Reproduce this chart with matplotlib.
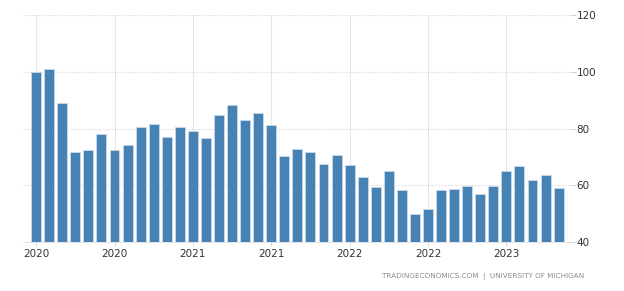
import matplotlib
matplotlib.use("Agg")
import matplotlib.pyplot as plt
import numpy as np

months = [f"{y}-{m:02d}" for y in range(2020, 2024) for m in range(1, 13)][:41]
values = [99.8, 101.0, 89.1, 71.8, 72.3, 78.1, 72.5, 74.1, 80.4, 81.8, 76.9, 80.7,
          79.0, 76.8, 84.9, 88.3, 82.9, 85.5, 81.2, 70.3, 72.8, 71.7, 67.4, 70.6,
          67.2, 62.8, 59.4, 65.2, 58.4, 50.0, 51.5, 58.2, 58.6, 59.9, 56.8, 59.7,
          64.9, 67.0, 62.0, 63.5, 59.2]
tick_labels = ["2020", "2020", "2021", "2021", "2022", "2022", "2023"]
tick_idx = [0, 6, 12, 18, 24, 30, 36]
y_ticks = [40, 60, 80, 100, 120]

fig = plt.figure(figsize=(6.24, 2.91), dpi=100)
ax = fig.add_axes([0.037, 0.168, 0.876, 0.78])
x = np.arange(len(values))
ax.bar(x, np.array(values) - 40, bottom=40, width=0.76, color="#4682B4",
       edgecolor="#c9d9ea", linewidth=0.6, zorder=3)
ax.set_xlim(-1.0, len(values) - 0.15)
ax.set_ylim(40, 120)
ax.set_yticks(y_ticks)
ax.yaxis.tick_right()
ax.set_xticks(tick_idx)
ax.set_xticklabels(tick_labels)
ax.tick_params(axis="y", length=4, width=0.6, color="#cccccc", labelsize=7.5,
               labelcolor="#333333", pad=1)
ax.tick_params(axis="x", length=3, width=0.6, color="#cccccc", labelsize=7.5,
               labelcolor="#333333", pad=2)
ax.grid(axis="y", color="#dddddd", linestyle=(0, (1, 1)), linewidth=0.8, zorder=0)
ax.grid(axis="x", color="#e6e6e6", linestyle="-", linewidth=0.8, zorder=0)
for s in ["top", "right", "left"]:
    ax.spines[s].set_visible(False)
ax.spines["bottom"].set_color("#dddddd")
ax.spines["bottom"].set_linewidth(0.6)
fig.text(0.937, 0.05, "TRADINGECONOMICS.COM  |  UNIVERSITY OF MICHIGAN",
         ha="right", va="center", fontsize=5.2, color="#8a8a8a")
fig.savefig("out.png", dpi=100)
